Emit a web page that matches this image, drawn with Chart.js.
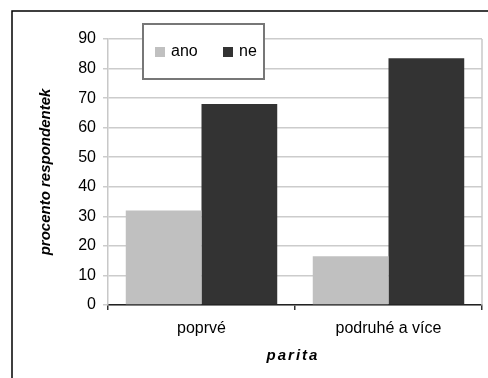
<!DOCTYPE html>
<html>
<head>
<meta charset="utf-8">
<script src="https://cdn.jsdelivr.net/npm/chart.js@4.4.1/dist/chart.umd.min.js"></script>
<style>
  html, body { margin: 0; padding: 0; background: #fff; }
  #wrap { width: 488px; height: 378px; }
</style>
</head>
<body>
<div id="wrap"><canvas id="parityChart" width="488" height="378"></canvas></div>
<script>
// values (percent)
const categories = ['poprvé', 'podruhé a více'];
const seriesNames = ['ano', 'ne'];
const anoValues = [32, 16.5];
const neValues = [68, 83.5];
const yTicks = [0, 10, 20, 30, 40, 50, 60, 70, 80, 90];

const fontFamily = '"Liberation Sans", Arial, sans-serif';

// frame of the original picture (only left and top edges are visible)
const framePlugin = {
    id: 'frame',
    beforeDraw(chart) {
        const ctx = chart.ctx;
        ctx.save();
        ctx.strokeStyle = '#000';
        ctx.lineWidth = 1.5;
        ctx.beginPath();
        ctx.moveTo(12, 378);
        ctx.lineTo(12, 11);
        ctx.lineTo(488, 11);
        ctx.stroke();
        ctx.restore();
    },
    afterDraw(chart) {
        // right border of the plot area
        const ctx = chart.ctx;
        const area = chart.chartArea;
        ctx.save();
        ctx.strokeStyle = '#c8c8c8';
        ctx.lineWidth = 1.5;
        ctx.beginPath();
        ctx.moveTo(area.right, area.top);
        ctx.lineTo(area.right, area.bottom);
        ctx.stroke();

        // x axis title, letter spaced like the original
        ctx.font = 'italic bold 15px ' + fontFamily;
        ctx.letterSpacing = '2px';
        ctx.fillStyle = '#000';
        ctx.textAlign = 'center';
        ctx.textBaseline = 'middle';
        ctx.fillText('parita', (area.left + area.right) / 2 - 2, 356);
        ctx.restore();
    }
};

// boxed legend floating over the top of the plot
const boxLegendPlugin = {
    id: 'boxLegend',
    afterDatasetsDraw(chart) {
        const ctx = chart.ctx;
        const box = { x: 143, y: 24, w: 121, h: 55 };
        ctx.save();
        ctx.fillStyle = '#fff';
        ctx.fillRect(box.x, box.y, box.w, box.h);
        ctx.strokeStyle = '#777';
        ctx.lineWidth = 2;
        ctx.strokeRect(box.x, box.y, box.w, box.h);
        ctx.font = '16px ' + fontFamily;
        ctx.textBaseline = 'middle';
        ctx.textAlign = 'left';
        const starts = [155, 223];
        chart.data.datasets.forEach((ds, i) => {
            ctx.fillStyle = ds.backgroundColor;
            ctx.fillRect(starts[i], 47, 10, 10);
            ctx.fillStyle = '#000';
            ctx.fillText(ds.label, starts[i] + 16, 52);
        });
        ctx.restore();
    }
};

const ctx = document.getElementById('parityChart').getContext('2d');
const parityChart = new Chart(ctx, {
    type: 'bar',
    data: {
        labels: categories,
        datasets: [{
            label: seriesNames[0],
            data: anoValues,
            backgroundColor: '#c0c0c0'
        }, {
            label: seriesNames[1],
            data: neValues,
            backgroundColor: '#333333'
        }]
    },
    options: {
        responsive: false,
        animation: false,
        layout: {
            padding: { left: 0, top: 39, right: 6, bottom: 0 }
        },
        datasets: {
            bar: {
                categoryPercentage: 0.81,
                barPercentage: 1.0
            }
        },
        plugins: {
            legend: { display: false },
            tooltip: { enabled: false }
        },
        scales: {
            x: {
                grid: {
                    display: true,
                    drawOnChartArea: false,
                    offset: true,
                    tickLength: 5,
                    color: '#333',
                    lineWidth: 1.5
                },
                border: { color: '#222', width: 1.5 },
                ticks: {
                    color: '#000',
                    font: { family: fontFamily, size: 16 },
                    padding: 9
                },
                afterFit(scale) { scale.height = 73; }
            },
            y: {
                min: 0,
                max: 90,
                afterBuildTicks(scale) {
                    scale.ticks = yTicks.map(v => ({ value: v }));
                },
                grid: {
                    color: '#cccccc',
                    lineWidth: 1.5,
                    tickLength: 5
                },
                border: { color: '#c8c8c8', width: 1.5 },
                ticks: {
                    color: '#000',
                    font: { family: fontFamily, size: 16 },
                    padding: 7
                },
                title: {
                    display: true,
                    text: 'procento respondentek',
                    color: '#000',
                    font: { family: fontFamily, size: 15, style: 'italic', weight: 'bold' },
                    padding: { top: 37, bottom: 0 }
                },
                afterFit(scale) { scale.width = 108; }
            }
        }
    },
    plugins: [framePlugin, boxLegendPlugin]
});
</script>
</body>
</html>
